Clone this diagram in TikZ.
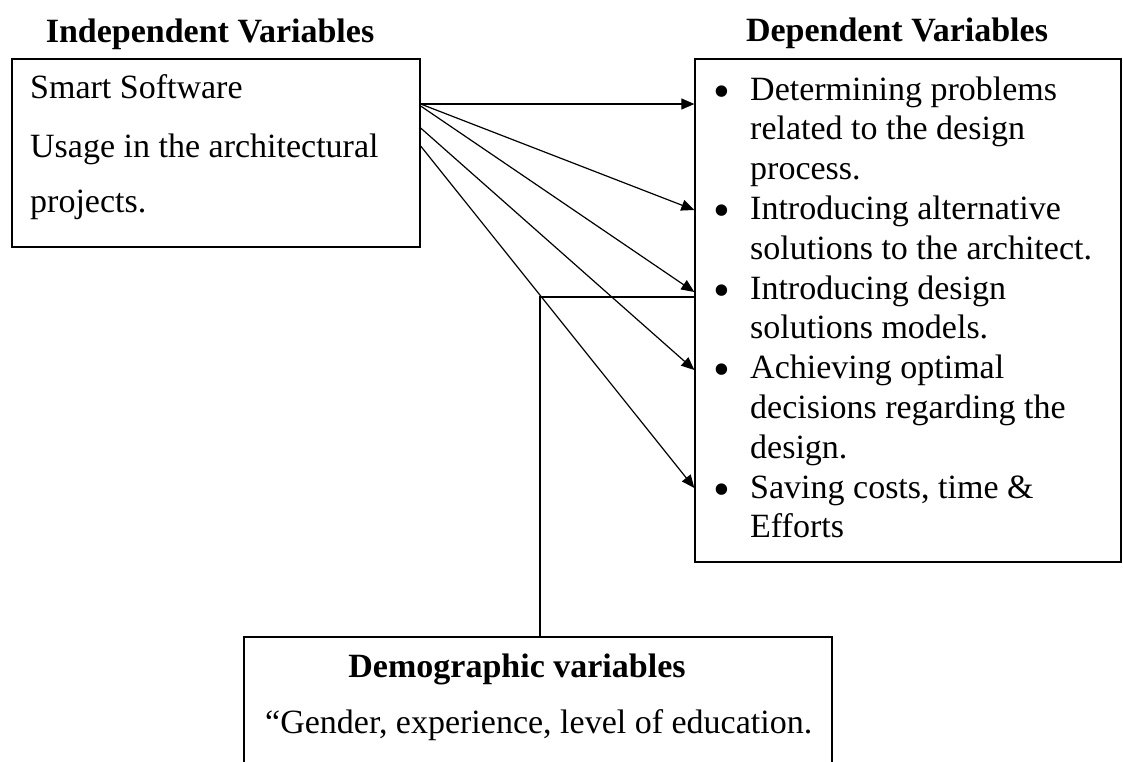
\documentclass[tikz,border=0pt]{standalone}
\usepackage{fontspec}
\setmainfont{Liberation Serif}
\usetikzlibrary{arrows.meta}
\tikzset{
  box/.style={draw, line width=1.3pt, inner sep=0pt, rectangle},
  txt/.style={anchor=base west, inner sep=0pt, font=\fontsize{34}{40}\selectfont},
  hdr/.style={anchor=base, inner sep=0pt, font=\fontsize{34}{40}\selectfont\bfseries},
  bul/.style={anchor=base, inner sep=0pt, font=\fontsize{48}{50}\selectfont},
  conn/.style={line width=1.2pt},
  arr/.style={line width=1.2pt, -{Triangle[length=13pt,width=11pt]}},
}
\begin{document}
\begin{tikzpicture}[x=1pt,y=-1pt]
\useasboundingbox (0,0) rectangle (1123,761);
\clip (0,0) rectangle (1123,761);
% boxes
\node[box, minimum width=408pt, minimum height=188pt] (ind) at (216,153) {};
\node[box, minimum width=426pt, minimum height=503pt] (dep) at (908,310.5) {};
\node[box, minimum width=588pt, minimum height=200pt] (dem) at (538,737) {};
% headers
\node[hdr] (indh) at (210,42) {Independent Variables};
\node[hdr] (deph) at (897,41) {Dependent Variables};
% left box text
\node[txt] (i1) at (30,98) {Smart Software};
\node[txt] (i2) at (30,157) {Usage in the architectural};
\node[txt] (i3) at (30,212) {projects.};
% right box text
\node[bul] (b1) at (722,107) {•};
\node[txt] (d1) at (750,100) {Determining problems};
\node[txt] (d2) at (750,139.8) {related to the design};
\node[txt] (d3) at (750,179.6) {process.};
\node[bul] (b2) at (722,226.4) {•};
\node[txt] (d4) at (750,219.4) {Introducing alternative};
\node[txt] (d5) at (750,259.2) {solutions to the architect.};
\node[bul] (b3) at (722,306) {•};
\node[txt] (d6) at (750,299) {Introducing design};
\node[txt] (d7) at (750,338.8) {solutions models.};
\node[bul] (b4) at (722,385.6) {•};
\node[txt] (d8) at (750,378.6) {Achieving optimal};
\node[txt] (d9) at (750,418.4) {decisions regarding the};
\node[txt] (d10) at (750,458.2) {design.};
\node[bul] (b5) at (722,505) {•};
\node[txt] (d11) at (750,498) {Saving costs, time \&};
\node[txt] (d12) at (750,537.8) {Efforts};
% bottom box text
\node[hdr] (demh) at (517,677) {Demographic variables};
\node[txt] (dem1) at (265,733) {“Gender, experience, level of education.};
% connection points
\coordinate (s1) at (ind.east |- 0,104);
\coordinate (s2) at (ind.east |- 0,106);
\coordinate (s3) at (ind.east |- 0,128);
\coordinate (s4) at (ind.east |- 0,146);
\coordinate (e1) at (dep.west |- 0,104);
\coordinate (e2) at (dep.west |- 0,210);
\coordinate (e3) at (dep.west |- 0,292);
\coordinate (e4) at (dep.west |- 0,370);
\coordinate (e5) at (dep.west |- 0,488);
\draw[arr] (s1) -- (e1);
\draw[arr] (s1) -- (e2);
\draw[arr] (s2) -- (e3);
\draw[arr] (s3) -- (e4);
\draw[arr] (s4) -- (e5);
% demographic connector
\coordinate (dtop) at (dem.north -| 540,0);
\coordinate (corner) at (540,297);
\draw[conn] (dtop) -- (corner) -- (dep.west |- corner);
\end{tikzpicture}
\end{document}
